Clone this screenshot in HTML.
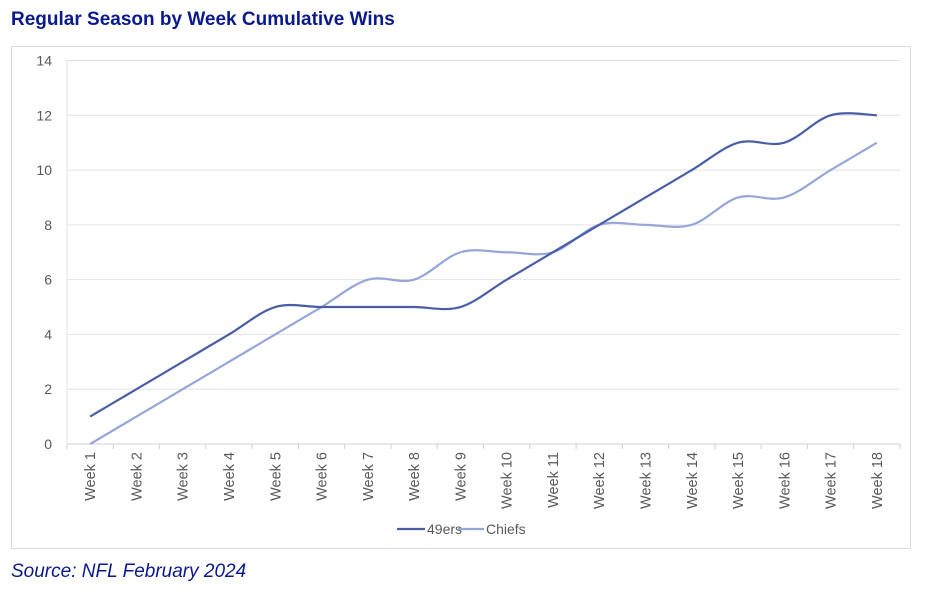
<!DOCTYPE html>
<html><head><meta charset="utf-8"><style>
body{margin:0;width:934px;height:610px;background:#fff;font-family:"Liberation Sans",sans-serif;overflow:hidden}
.t{position:absolute;left:11px;top:9px;font-size:19px;font-weight:bold;color:#0a1a8c}
.s{position:absolute;left:11px;top:561px;font-size:19px;font-style:italic;color:#0a1a8c}
.box{position:absolute;left:11px;top:46px;width:898px;height:501px;border:1px solid #dadada}
svg{position:absolute;left:0;top:0}
</style></head><body>
<div class="t">Regular Season by Week Cumulative Wins</div>
<div class="box"></div>
<svg id="c" width="934" height="610" font-family="Liberation Sans, sans-serif"></svg>
<div class="s">Source: NFL February 2024</div>
<script>
const L=67,R=900,Y0=444,U=(444-60.5)/14,n=18,w=(R-L)/n;
const a=[1,2,3,4,5,5,5,5,5,6,7,8,9,10,11,11,12,12],b=[0,1,2,3,4,5,6,6,7,7,7,8,8,8,9,9,10,11];
let s='';
for(let v=0;v<=14;v+=2){const y=Y0-v*U;s+=`<line x1="${L}" x2="${R}" y1="${y}" y2="${y}" stroke="${v?'#e2e2e2':'#d0d0d0'}"/>`;s+=`<text x="52" y="${y+5}" font-size="14" fill="#595959" text-anchor="end">${v}</text>`;}
s+=`<line x1="${L}" x2="${L}" y1="60" y2="${Y0}" stroke="#e2e2e2"/>`;
for(let i=0;i<=n;i++){const x=L+i*w;s+=`<line x1="${x}" x2="${x}" y1="${Y0}" y2="${Y0+5}" stroke="#d0d0d0"/>`;}
for(let i=0;i<n;i++){const x=L+(i+.5)*w+5;s+=`<text transform="translate(${x},452) rotate(-90)" font-size="14.5" fill="#595959" text-anchor="end">Week ${i+1}</text>`;}
function path(d){const p=d.map((v,i)=>[L+(i+.5)*w,Y0-v*U]);let r=`M${p[0]}`;const t=0.5/3;
for(let i=0;i<p.length-1;i++){const p0=p[i-1]||p[i],p1=p[i],p2=p[i+1],p3=p[i+2]||p2;
r+=` C${p1[0]+(p2[0]-p0[0])*t},${p1[1]+(p2[1]-p0[1])*t} ${p2[0]-(p3[0]-p1[0])*t},${p2[1]-(p3[1]-p1[1])*t} ${p2[0]},${p2[1]}`;}return r;}
s+=`<path d="${path(b)}" fill="none" stroke="#97a6d8" stroke-width="2.2"/>`;
s+=`<path d="${path(a)}" fill="none" stroke="#4a5ea8" stroke-width="2.2"/>`;
s+=`<line x1="397" x2="425" y1="529" y2="529" stroke="#4a5ea8" stroke-width="2.2"/><text x="427" y="534" font-size="14" fill="#595959">49ers</text>`;
s+=`<line x1="458" x2="484" y1="529" y2="529" stroke="#97a6d8" stroke-width="2.2"/><text x="486" y="534" font-size="14" fill="#595959">Chiefs</text>`;
document.getElementById('c').innerHTML=s;
</script>
</body></html>
